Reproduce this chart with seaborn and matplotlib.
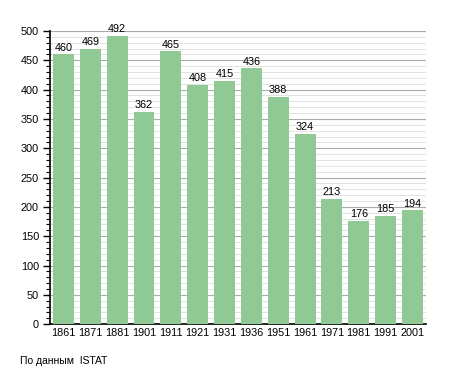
import pandas as pd
import matplotlib
matplotlib.use('Agg')
import matplotlib.pyplot as plt
import seaborn as sns
from matplotlib.ticker import MultipleLocator

# data
years = ['1861', '1871', '1881', '1901', '1911', '1921', '1931', '1936',
         '1951', '1961', '1971', '1981', '1991', '2001']
population = [460, 469, 492, 362, 465, 408, 415, 436, 388, 324, 213, 176, 185, 194]

df = pd.DataFrame({'year': years, 'pop': population})

sns.set_style('white')
plt.rcParams['font.family'] = ['Liberation Sans', 'DejaVu Sans']
plt.rcParams['text.color'] = 'black'
plt.rcParams['xtick.color'] = 'black'
plt.rcParams['ytick.color'] = 'black'

fig = plt.figure(figsize=(4.55, 3.73), dpi=100)
ax = fig.add_axes([0.110, 0.131, 0.826, 0.786])

sns.barplot(data=df, x='year', y='pop', color='#90c993', saturation=1,
            width=0.78, edgecolor='none', linewidth=0, ax=ax, zorder=3)

ax.set_ylim(0, 500)
ax.set_xlim(-0.5, len(years) - 0.5)
ax.yaxis.set_major_locator(MultipleLocator(50))
ax.yaxis.set_minor_locator(MultipleLocator(10))
ax.grid(axis='y', which='major', color='#aaaaaa', linewidth=0.8, zorder=0)
ax.grid(axis='y', which='minor', color='#dddddd', linewidth=0.6, zorder=0)
ax.set_axisbelow(True)

for s in ['top', 'right']:
    ax.spines[s].set_visible(False)
ax.spines['left'].set_color('black')
ax.spines['bottom'].set_color('black')
ax.spines['left'].set_linewidth(1.2)
ax.spines['bottom'].set_linewidth(1.2)

ax.tick_params(axis='y', which='major', length=5, width=1, direction='out',
               labelsize=7.8, left=True, pad=3)
ax.tick_params(axis='y', which='minor', length=3, width=0.8, direction='out', left=True)
ax.tick_params(axis='x', length=0, labelsize=7.8, pad=3)
ax.set_xlabel('')
ax.set_ylabel('')

for i, v in enumerate(population):
    ax.text(i, v + 3, str(v), ha='center', va='bottom', fontsize=7.8, zorder=4)

fig.text(20 / 455, 1 - 361 / 373, 'По данным  ISTAT', fontsize=7.5, va='center')

fig.savefig('out.png', dpi=100)
